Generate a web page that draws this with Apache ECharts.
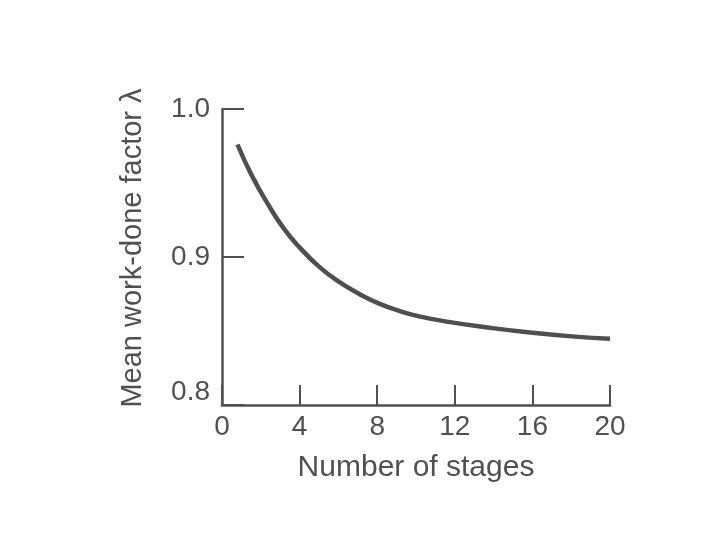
<!DOCTYPE html>
<html>
<head>
<meta charset="utf-8">
<script src="https://cdn.jsdelivr.net/npm/echarts@6/dist/echarts.min.js"></script>
<style>html,body{margin:0;padding:0;background:#fff}#c{width:720px;height:540px}</style>
</head>
<body>
<div id="c"></div>
<script>
var stages = [0.8, 1.5, 2.4, 3.2, 4.0, 5.0, 6.0, 7.1, 8.1, 9.2, 10.2, 11.5, 13.8, 16.0, 18.2, 20.0];
var lambda = [0.976, 0.956, 0.935, 0.919, 0.9065, 0.8935, 0.8835, 0.8748, 0.8685, 0.8633, 0.8598, 0.8565, 0.8522, 0.8488, 0.8462, 0.8448];
var xTicks = [0, 4, 8, 12, 16, 20];
var yTicks = [0.8, 0.9, 1.0];
var xName = 'Number of stages';
var yName = 'Mean work-done factor \u03bb';

var chart = echarts.init(document.getElementById('c'));
var ink = '#505050';
var font = 'Liberation Sans, Arial, sans-serif';
chart.setOption({
  backgroundColor: '#fff',
  animation: false,
  grid: {left: 222, right: 110, top: 109, bottom: 135},
  xAxis: {
    type: 'value', min: xTicks[0], max: xTicks[xTicks.length - 1], interval: 4,
    name: xName, nameLocation: 'middle', nameGap: 48,
    nameTextStyle: {color: ink, fontSize: 30, fontFamily: font},
    axisLine: {show: true, lineStyle: {color: ink, width: 2.5}},
    axisTick: {show: true, inside: true, length: 20, lineStyle: {color: ink, width: 2}},
    axisLabel: {color: ink, fontSize: 28, fontFamily: font, margin: 8},
    splitLine: {show: false}
  },
  yAxis: {
    type: 'value', min: yTicks[0], max: yTicks[yTicks.length - 1], interval: 0.1,
    name: yName, nameLocation: 'middle', nameGap: 75,
    nameTextStyle: {color: ink, fontSize: 29, fontFamily: font, padding: [0, 0, 0, 18]},
    axisLine: {show: true, lineStyle: {color: ink, width: 2.5}},
    axisTick: {show: true, inside: true, length: 22, lineStyle: {color: ink, width: 2}},
    axisLabel: {
      color: ink, fontSize: 28, fontFamily: font, margin: 12,
      formatter: function (v) {
        var s = v.toFixed(1);
        return v === yTicks[0] ? '{low|' + s + '}' : s;
      },
      rich: {low: {color: ink, fontSize: 28, fontFamily: font, padding: [0, 0, 26, 0]}}
    },
    splitLine: {show: false}
  },
  series: [{
    type: 'line', smooth: true, showSymbol: false,
    data: stages.map(function (x, i) { return [x, lambda[i]]; }),
    lineStyle: {color: '#4f4f4f', width: 4.5}
  }]
});
</script>
</body>
</html>
